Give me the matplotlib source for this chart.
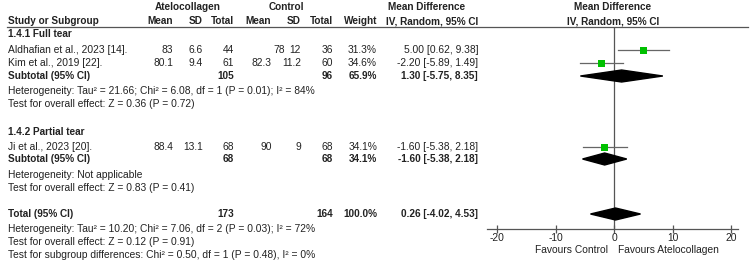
import matplotlib

matplotlib.use("Agg")
import matplotlib.pyplot as plt
from matplotlib.patches import Polygon, Rectangle

plt.rcParams["font.family"] = ["Liberation Sans", "DejaVu Sans"]

# data
studies = ["Aldhafian et al., 2023 [14].", "Kim et al., 2019 [22].", "Ji et al., 2023 [20]."]
exp_mean = [83, 80.1, 88.4]
exp_sd = [6.6, 9.4, 13.1]
exp_n = [44, 61, 68]
ctl_mean = [78, 82.3, 90]
ctl_sd = [12, 11.2, 9]
ctl_n = [36, 60, 68]
weights = [31.3, 34.6, 34.1]
md = [5.00, -2.20, -1.60]
md_lo = [0.62, -5.89, -5.38]
md_hi = [9.38, 1.49, 2.18]

sub_labels = ["Subtotal (95% CI)", "Subtotal (95% CI)", "Total (95% CI)"]
sub_exp_n = [105, 68, 173]
sub_ctl_n = [96, 68, 164]
sub_w = [65.9, 34.1, 100.0]
sub_md = [1.30, -1.60, 0.26]
sub_lo = [-5.75, -5.38, -4.02]
sub_hi = [8.35, 2.18, 4.53]

xticks = [-20, -10, 0, 10, 20]

W, H = 750, 263
FS = 7.4
TXT = "#222222"

fig = plt.figure(figsize=(W / 100, H / 100), dpi=100)
ax = fig.add_axes([0, 0, 1, 1])
ax.set_xlim(0, W)
ax.set_ylim(H, 0)
ax.axis("off")


def t(x, y, s, ha="left", bold=False):
    ax.text(x, y, s, ha=ha, va="center", fontsize=FS - (0.2 if bold else 0),
            color=TXT, fontweight="bold" if bold else "normal")


# headers
t(188, 7, "Atelocollagen", "center", True)
t(286, 7, "Control", "center", True)
t(427, 7, "Mean Difference", "center", True)
t(613, 7, "Mean Difference", "center", True)
t(8, 21, "Study or Subgroup", bold=True)
cols = [173, 203, 234, 271, 301, 333, 377]
for x, s in zip(cols, ["Mean", "SD", "Total", "Mean", "SD", "Total", "Weight"]):
    t(x, 21, s, "right", True)
t(478, 21, "IV, Random, 95% CI", "right", True)
t(613, 21, "IV, Random, 95% CI", "center", True)
ax.plot([7, 748], [27, 27], color="#555555", lw=0.9)

study_y = [50, 63, 147]
sub_y = [76, 159, 214]
# the control means are not lined up in the source table
ctl_mean_x = [285, 271, 272]


def fmt(v):
    return f"{v:.2f}"


for i, y in enumerate(study_y):
    t(8, y, studies[i])
    vals = [f"{exp_mean[i]:g}", f"{exp_sd[i]:g}", str(exp_n[i]),
            f"{ctl_mean[i]:g}", f"{ctl_sd[i]:g}", str(ctl_n[i]), f"{weights[i]:.1f}%"]
    xs = cols[:3] + [ctl_mean_x[i]] + cols[4:]
    for x, s in zip(xs, vals):
        t(x, y, s, "right")
    t(478, y, f"{fmt(md[i])} [{fmt(md_lo[i])}, {fmt(md_hi[i])}]", "right")

for i, y in enumerate(sub_y):
    t(8, y, sub_labels[i], bold=True)
    t(cols[2], y, str(sub_exp_n[i]), "right", True)
    t(cols[5], y, str(sub_ctl_n[i]), "right", True)
    t(cols[6], y, f"{sub_w[i]:.1f}%", "right", True)
    t(478, y, f"{fmt(sub_md[i])} [{fmt(sub_lo[i])}, {fmt(sub_hi[i])}]", "right", True)

t(8, 34, "1.4.1 Full tear", bold=True)
t(8, 91, "Heterogeneity: Tau\u00b2 = 21.66; Chi\u00b2 = 6.08, df = 1 (P = 0.01); I\u00b2 = 84%")
t(8, 104, "Test for overall effect: Z = 0.36 (P = 0.72)")
t(8, 132, "1.4.2 Partial tear", bold=True)
t(8, 175, "Heterogeneity: Not applicable")
t(8, 188, "Test for overall effect: Z = 0.83 (P = 0.41)")
t(8, 229, "Heterogeneity: Tau\u00b2 = 10.20; Chi\u00b2 = 7.06, df = 2 (P = 0.03); I\u00b2 = 72%")
t(8, 242, "Test for overall effect: Z = 0.12 (P = 0.91)")
t(8, 255, "Test for subgroup differences: Chi\u00b2 = 0.50, df = 1 (P = 0.48), I\u00b2 = 0%")

# forest panel: x from -20..20 spans px 497..731, y in figure pixels
ppu = (731 - 497) / 40
x0 = -20 - (497 - 487) / ppu
x1 = 20 + (738 - 731) / ppu
fx = fig.add_axes([487 / W, (H - 229) / H, (738 - 487) / W, (229 - 27) / H])
fx.set_xlim(x0, x1)
fx.set_ylim(229, 27)
fx.patch.set_alpha(0)
for side in ["top", "right", "left"]:
    fx.spines[side].set_visible(False)
fx.spines["bottom"].set_color("#555555")
fx.spines["bottom"].set_linewidth(0.9)
fx.set_yticks([])
fx.set_xticks(xticks)
fx.set_xticklabels([str(v) for v in xticks])
fx.tick_params(axis="x", direction="inout", length=6, width=0.9, color="#555555",
               labelsize=FS, labelcolor=TXT, pad=0)
fx.axvline(0, color="#555555", lw=0.9)

sq = 7.0  # square side in pixels
for i, y in enumerate(study_y):
    fx.plot([md_lo[i], md_hi[i]], [y, y], color="#666666", lw=0.9)
    fx.add_patch(Rectangle((md[i] - sq / 2 / ppu, y - sq / 2), sq / ppu, sq,
                           color="#00c000", zorder=3, lw=0))

for i, y in enumerate(sub_y):
    fx.add_patch(Polygon([(sub_lo[i], y), (sub_md[i], y - 6), (sub_hi[i], y),
                          (sub_md[i], y + 6)], closed=True, color="black", zorder=3))

t(608, 250, "Favours Control", "right")
t(618, 250, "Favours Atelocollagen", "left")

fig.savefig("out.png", dpi=100)
